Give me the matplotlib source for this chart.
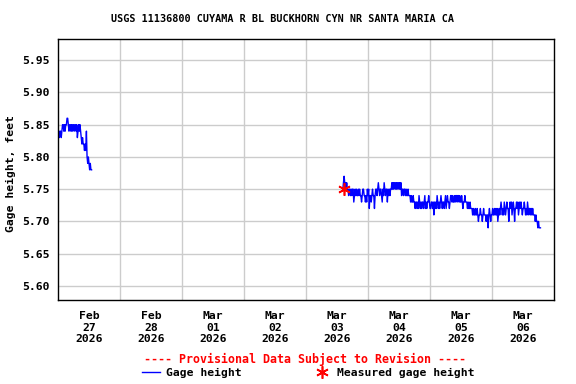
import matplotlib
matplotlib.use("Agg")
import matplotlib.pyplot as plt
import numpy as np
import pandas as pd

title = "USGS 11136800 CUYAMA R BL BUCKHORN CYN NR SANTA MARIA CA"
ylabel = "Gage height, feet"
yticks = [5.60, 5.65, 5.70, 5.75, 5.80, 5.85, 5.90, 5.95]
day_labels = ["Feb\n27\n2026", "Feb\n28\n2026", "Mar\n01\n2026", "Mar\n02\n2026",
              "Mar\n03\n2026", "Mar\n04\n2026", "Mar\n05\n2026", "Mar\n06\n2026"]

# Segment 1: 15-min gage height (hundredths of ft) from 2026-02-27 00:00
seg1_start = "2026-02-27 00:00"
seg1_vals = [583, 584, 583, 584, 584, 583, 584, 585,
             585, 584, 585, 584, 585, 585,
             586, 586,
             585, 584, 585, 585, 584, 585, 584, 585, 585, 584,
             585, 585, 584, 585, 583, 584, 585, 584, 585, 584,
             583, 582, 583, 582,
             582, 581, 582, 581,
             584,
             580, 579, 580,
             579, 578, 579, 578, 578]

# Segment 2: 15-min gage height (hundredths of ft) from 2026-03-03 14:15
seg2_start = "2026-03-03 14:15"
seg2_vals = [
    575, 576, 577, 576,  576, 575, 576, 575,  575, 574, 575, 575,
    574, 575, 574, 575,  575, 573, 574, 575,  574, 575, 574, 574,
    575, 574, 575, 574,  574, 573, 574, 575,  575, 574, 574, 573,
    574, 573, 575, 574,  575, 572, 574, 574,  573, 574, 575, 574,
    574, 572, 574, 575,  575, 574, 575, 576,  575, 574, 575, 575,
    574, 573, 575, 574,  576, 575, 574, 575,  575, 573, 575, 574,
    575, 574, 575, 575,  576, 575, 576, 575,  576, 576, 575, 576,
    575, 576, 576, 575,  576, 575, 576, 574,  575, 575, 574, 575,
    575, 574, 575, 574,  574, 575, 574, 574,  574, 573, 574, 573,
    573, 574, 573, 573,  572, 573, 573, 572,  573, 572, 574, 573,
    572, 573, 572, 573,  573, 572, 573, 574,  572, 573, 572, 573,
    573, 574, 573, 572,  572, 573, 573, 572,  573, 571, 573, 572,
    573, 572, 574, 573,  572, 573, 572, 573,  574, 573, 572, 573,
    573, 572, 573, 574,  572, 573, 574, 573,  573, 572, 573, 574,
    574, 573, 574, 573,  573, 574, 573, 574,  574, 573, 574, 574,
    573, 574, 573, 573,  574, 573, 572, 573,  573, 574, 573, 573,
    573, 572, 573, 572,  572, 573, 572, 572,  572, 571, 572, 571,
    571, 572, 571, 571,  572, 571, 570, 571,  571, 572, 571, 571,
    570, 571, 572, 571,  571, 571, 570, 571,  571, 569, 571, 572,
    571, 570, 571, 571,  572, 571, 571, 572,  571, 572, 571, 572,
    570, 571, 572, 571,  572, 573, 572, 571,  572, 571, 573, 572,
    571, 572, 573, 572,  572, 570, 572, 573,  572, 573, 571, 572,
    573, 572, 570, 572,  572, 573, 572, 573,  571, 572, 573, 572,
    573, 572, 571, 572,  572, 573, 572, 571,  572, 571, 573, 572,
    571, 572, 572, 571,  572, 571, 572, 571,  571, 571, 570, 571,
    570, 570, 569, 570,  569, 569, 569]

meas_time = "2026-03-03 14:40"
meas_val = 5.75

t1 = pd.date_range(seg1_start, periods=len(seg1_vals), freq="15min")
t2 = pd.date_range(seg2_start, periods=len(seg2_vals), freq="15min")
v1 = np.array(seg1_vals) / 100.0
v2 = np.array(seg2_vals) / 100.0

mono = "DejaVu Sans Mono"
fs = 8.2
fig = plt.figure(figsize=(5.76, 3.84), dpi=100)
ax = fig.add_axes([58/576, 1-300/384, (554-58)/576, (300-39)/384])

ax.plot(t1, v1, color="#0000ff", lw=1)
ax.plot(t2, v2, color="#0000ff", lw=1)
ax.plot([pd.Timestamp(meas_time)], [meas_val], linestyle="none",
        marker=(6, 2, 0), color="red", markersize=9, markeredgewidth=1.2)

ax.set_xlim(pd.Timestamp("2026-02-27"), pd.Timestamp("2026-03-07"))
ax.set_ylim(5.578, 5.983)
ax.set_yticks(yticks)
ax.set_yticklabels([f"{v:.2f}" for v in yticks], fontfamily=mono,
                   fontweight="bold", fontsize=fs)

days = pd.date_range("2026-02-28", periods=7, freq="D")
ax.set_xticks(days)
ax.set_xticklabels([])
noons = pd.date_range("2026-02-27 12:00", periods=8, freq="D")
ax.set_xticks(noons, minor=True)
ax.set_xticklabels(day_labels, minor=True, fontfamily=mono,
                   fontweight="bold", fontsize=fs, linespacing=1.2)
ax.tick_params(which="both", length=0)
ax.tick_params(axis="x", which="minor", pad=8)
ax.tick_params(axis="y", pad=6)

ax.grid(True, which="major", color="#cccccc", lw=1)
ax.set_axisbelow(True)
for s in ax.spines.values():
    s.set_color("black")
    s.set_linewidth(1)

fig.text(282.5/576, 1-19/384, title, ha="center", va="center",
         fontfamily=mono, fontweight="bold", fontsize=7.3)
fig.text(11/576, 1-174/384, ylabel, ha="center", va="center", rotation=90,
         fontfamily=mono, fontweight="bold", fontsize=fs)
fig.text(305.5/576, 1-359/384, "---- Provisional Data Subject to Revision ----",
         ha="center", va="center", color="red",
         fontfamily=mono, fontweight="bold", fontsize=8.4)

# legend row
fig.add_artist(plt.Line2D([142/576, 160/576], [1-372/384, 1-372/384],
                          color="#0000ff", lw=1))
fig.text(166/576, 1-373/384, "Gage height", ha="left", va="center",
         fontfamily=mono, fontweight="bold", fontsize=fs)
fig.add_artist(plt.Line2D([322/576], [1-372/384], marker=(6, 2, 0),
                          color="red", markersize=9, markeredgewidth=1.2,
                          linestyle="none"))
fig.text(337/576, 1-373/384, "Measured gage height", ha="left", va="center",
         fontfamily=mono, fontweight="bold", fontsize=fs)

fig.savefig("out.png", dpi=100)
